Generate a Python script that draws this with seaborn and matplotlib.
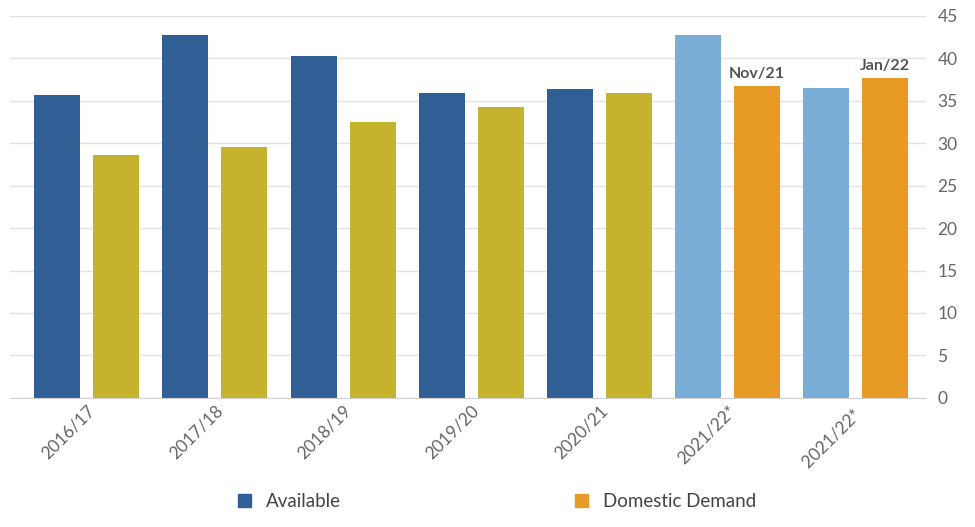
import pandas as pd
import matplotlib.pyplot as plt
import seaborn as sns
from matplotlib.patches import Patch

safras = ["2016/17", "2017/18", "2018/19", "2019/20", "2020/21", "2021/22*", "2021/22* "]
disponivel = [35.7, 42.7, 40.3, 35.9, 36.4, 42.7, 36.5]
demanda = [28.6, 29.5, 32.5, 34.3, 35.9, 36.7, 37.7]
rotulos = {5: "Nov/21", 6: "Jan/22"}

df = pd.DataFrame({
    "Safra": safras * 2,
    "Valor": disponivel + demanda,
    "Serie": ["Available"] * 7 + ["Domestic Demand"] * 7,
})

sns.set_style("white")
plt.rcParams["font.family"] = ["Lato", "DejaVu Sans"]

fig, ax = plt.subplots(figsize=(9.75, 5.27), dpi=100)
sns.barplot(data=df, x="Safra", y="Valor", hue="Serie", ax=ax, width=0.92, gap=0.22,
            legend=False, edgecolor="none")

cores_disp = ["#2f5f95"] * 5 + ["#7aadd6"] * 2
cores_dem = ["#c5b32d"] * 5 + ["#e89a26"] * 2
barras = [p for p in ax.patches if p.get_height() > 0]
for i, p in enumerate(barras[:7]):
    p.set_facecolor(cores_disp[i])
for i, p in enumerate(barras[7:14]):
    p.set_facecolor(cores_dem[i])
    if i in rotulos:
        ax.text(p.get_x() + p.get_width() / 2, p.get_height() + 0.6, rotulos[i],
                ha="center", va="bottom", fontsize=11.5, fontweight="bold", color="#555555")

ax.set_ylim(0, 45)
ax.set_yticks(range(0, 46, 5))
ax.yaxis.tick_right()
ax.yaxis.grid(True, color="#e3e3e3", linewidth=1)
ax.set_axisbelow(True)
ax.tick_params(axis="y", length=0, labelsize=12.5, labelcolor="#666666", pad=8)
ax.tick_params(axis="x", length=0, labelsize=12.5, labelcolor="#666666")
plt.setp(ax.get_xticklabels(), rotation=45, ha="right", rotation_mode="anchor")
ax.set_xlabel("")
ax.set_ylabel("")
ax.set_xlim(-0.6, 6.55)
for s in ["top", "left", "right"]:
    ax.spines[s].set_visible(False)
ax.spines["bottom"].set_color("#d0d0d0")

fig.legend(handles=[Patch(color="#2f5f95", label="Available"),
                    Patch(color="#e89a26", label="Domestic Demand")],
           loc="lower center", ncol=2, frameon=False, fontsize=13.5, handlelength=0.7,
           handleheight=0.7, columnspacing=12.5, bbox_to_anchor=(0.51, 0.0),
           labelcolor="#444444")

plt.subplots_adjust(left=0.01, right=0.95, top=0.97, bottom=0.245)
plt.savefig("out.png")
